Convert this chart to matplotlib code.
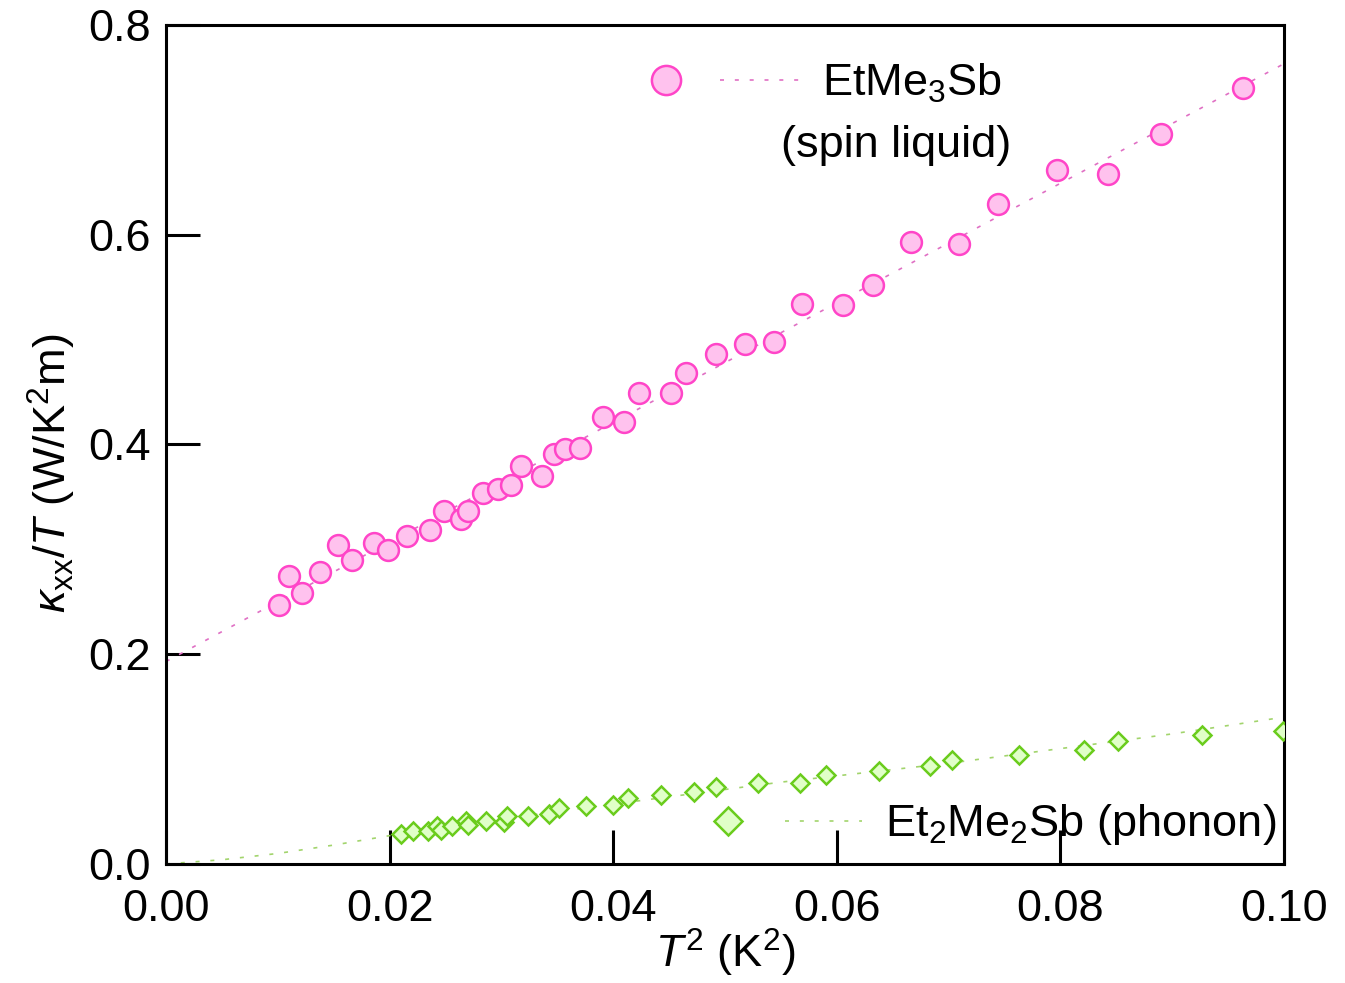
"""Thermal conductivity kappa_xx/T versus T^2 for EtMe3Sb and Et2Me2Sb."""

import matplotlib

matplotlib.use("Agg")
import matplotlib.pyplot as plt
from matplotlib.legend_handler import HandlerTuple
from matplotlib.lines import Line2D

plt.rcParams["font.family"] = ["Liberation Sans", "DejaVu Sans"]
plt.rcParams["mathtext.fontset"] = "custom"
plt.rcParams["mathtext.rm"] = "Liberation Sans"
plt.rcParams["mathtext.it"] = "Liberation Sans:italic"
plt.rcParams["mathtext.bf"] = "Liberation Sans:bold"

# EtMe3Sb (spin liquid)
spin_t2 = [0.0101, 0.0110, 0.0122, 0.0138, 0.0154, 0.0166, 0.0186, 0.0199,
           0.0216, 0.0236, 0.0249, 0.0264, 0.0270, 0.0284, 0.0297, 0.0309,
           0.0318, 0.0336, 0.0347, 0.0357, 0.0370, 0.0391, 0.0410, 0.0423,
           0.0452, 0.0465, 0.0492, 0.0518, 0.0544, 0.0569, 0.0606, 0.0632,
           0.0666, 0.0709, 0.0744, 0.0797, 0.0843, 0.0890, 0.0963]
spin_kappa = [0.247, 0.275, 0.258, 0.278, 0.304, 0.290, 0.306, 0.299,
              0.313, 0.318, 0.337, 0.329, 0.337, 0.354, 0.358, 0.361,
              0.379, 0.370, 0.391, 0.396, 0.397, 0.426, 0.421, 0.449,
              0.449, 0.468, 0.486, 0.496, 0.498, 0.534, 0.533, 0.552,
              0.593, 0.591, 0.629, 0.662, 0.658, 0.696, 0.740]
spin_fit_t2 = [0.0, 0.1]
spin_fit_kappa = [0.193, 0.763]

# Et2Me2Sb (phonon)
phonon_t2 = [0.0210, 0.0221, 0.0234, 0.0242, 0.0246, 0.0256, 0.0268, 0.0270,
             0.0286, 0.0302, 0.0305, 0.0324, 0.0343, 0.0352, 0.0376, 0.0400,
             0.0413, 0.0443, 0.0472, 0.0492, 0.0530, 0.0567, 0.0590, 0.0638,
             0.0683, 0.0703, 0.0763, 0.0821, 0.0852, 0.0927, 0.0999]
phonon_kappa = [0.029, 0.031, 0.031, 0.036, 0.032, 0.036, 0.041, 0.037,
                0.041, 0.040, 0.046, 0.046, 0.048, 0.053, 0.055, 0.056,
                0.063, 0.066, 0.069, 0.073, 0.077, 0.077, 0.085, 0.089,
                0.093, 0.099, 0.104, 0.109, 0.117, 0.123, 0.127]
phonon_fit_t2 = [0.0, 0.005, 0.01, 0.015, 0.02, 0.025, 0.03, 0.035, 0.04,
                 0.045, 0.05, 0.055, 0.06, 0.065, 0.07, 0.075, 0.08, 0.085,
                 0.09, 0.095, 0.1]
phonon_fit_kappa = [0.0, 0.004, 0.010, 0.018, 0.027, 0.035, 0.043, 0.050,
                    0.057, 0.064, 0.071, 0.078, 0.084, 0.090, 0.096, 0.103,
                    0.110, 0.117, 0.124, 0.132, 0.140]

x_ticks = [0.00, 0.02, 0.04, 0.06, 0.08, 0.10]
y_ticks = [0.0, 0.2, 0.4, 0.6, 0.8]

PINK_FACE, PINK_EDGE, PINK_LINE = "#ffc2ee", "#ff45c8", "#e070c4"
GREEN_FACE, GREEN_EDGE, GREEN_LINE = "#e0ffc8", "#6acc1c", "#a2d46c"
DOTS = (0, (2.4, 6.5))
FONT = 32.5

fig = plt.figure(figsize=(13.45, 9.83), dpi=100)
ax = fig.add_axes([0.1234, 0.1211, 0.8312, 0.8535])

ax.plot(spin_fit_t2, spin_fit_kappa, color=PINK_LINE, lw=1.2, ls=DOTS, zorder=2)
ax.plot(phonon_fit_t2, phonon_fit_kappa, color=GREEN_LINE, lw=1.2, ls=DOTS, zorder=2)
ax.plot(spin_t2, spin_kappa, "o", ms=15, mfc=PINK_FACE, mec=PINK_EDGE,
        mew=1.8, ls="none", zorder=3)
ax.plot(phonon_t2, phonon_kappa, "D", ms=9.4, mfc=GREEN_FACE, mec=GREEN_EDGE,
        mew=1.8, ls="none", zorder=3)

ax.set_xlim(0, 0.1)
ax.set_ylim(0, 0.8)
ax.set_xticks(x_ticks)
ax.set_yticks(y_ticks)
ax.set_xticklabels([f"{v:.2f}" for v in x_ticks])
ax.set_yticklabels([f"{v:.1f}" for v in y_ticks])
ax.tick_params(direction="in", length=24.5, width=2.2, labelsize=FONT)
ax.tick_params(axis="x", pad=18)
ax.tick_params(axis="y", pad=11)
for spine in ax.spines.values():
    spine.set_linewidth(2.2)

ax.set_xlabel(r"$T^2$ (K$^2$)", fontsize=FONT, labelpad=-2)
ax.set_ylabel(r"$\kappa_{\rm xx}/T$ (W/K$^2$m)", fontsize=FONT)
ax.yaxis.set_label_coords(-0.079, 0.465)


def legend_handle(marker, ms, face, edge, line_color):
    dot = Line2D([], [], marker=marker, ms=ms, mfc=face, mec=edge, mew=1.8, ls="none")
    dash = Line2D([], [], color=line_color, lw=1.2, ls=DOTS)
    return (dot, dash)


spin_leg = ax.legend(
    [legend_handle("o", 21, PINK_FACE, PINK_EDGE, PINK_LINE)],
    [r"EtMe$_3$Sb"],
    handler_map={tuple: HandlerTuple(ndivide=None, pad=0.3)},
    loc="center left", bbox_to_anchor=(0.4115, 0.930), frameon=False,
    fontsize=FONT, handlelength=3.85, handletextpad=0.5, borderpad=0,
    borderaxespad=0,
)
ax.add_artist(spin_leg)
ax.text(0.550, 0.856, "(spin liquid)", transform=ax.transAxes,
        fontsize=FONT, ha="left", va="center")

phonon_leg = ax.legend(
    [legend_handle("D", 14.2, GREEN_FACE, GREEN_EDGE, GREEN_LINE)],
    [r"Et$_2$Me$_2$Sb (phonon)"],
    handler_map={tuple: HandlerTuple(ndivide=None, pad=0.4)},
    loc="center left", bbox_to_anchor=(0.4675, 0.0465), frameon=False,
    fontsize=FONT, handlelength=3.85, handletextpad=0.5, borderpad=0,
    borderaxespad=0,
)
phonon_leg.set_zorder(1)

fig.savefig("out.png", dpi=100)
